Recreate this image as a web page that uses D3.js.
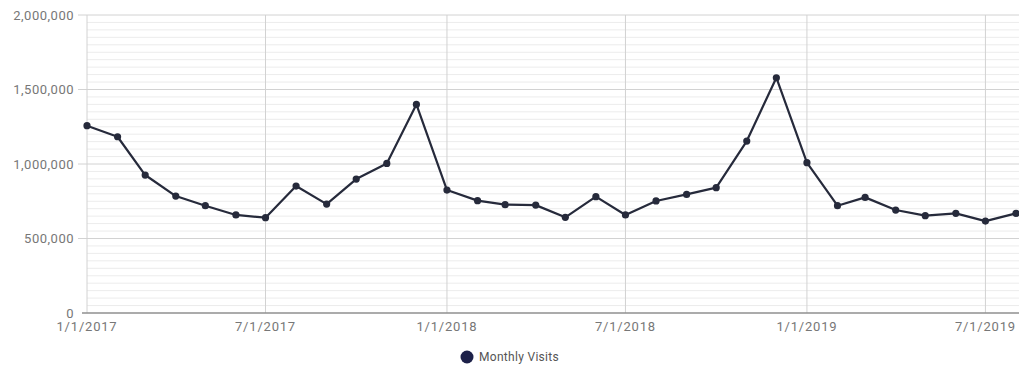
<!DOCTYPE html>
<html>
<head>
<meta charset="utf-8">
<script src="https://cdn.jsdelivr.net/npm/d3@7/dist/d3.min.js"></script>
<style>
  html, body { margin: 0; padding: 0; background: #fff; }
  svg { display: block; font-family: Roboto, "Noto Sans", sans-serif; }
</style>
</head>
<body>
<svg id="chart" width="1019" height="367"></svg>
<script>
const months = [
  "2017-01-01","2017-02-01","2017-03-01","2017-04-01","2017-05-01","2017-06-01",
  "2017-07-01","2017-08-01","2017-09-01","2017-10-01","2017-11-01","2017-12-01",
  "2018-01-01","2018-02-01","2018-03-01","2018-04-01","2018-05-01","2018-06-01",
  "2018-07-01","2018-08-01","2018-09-01","2018-10-01","2018-11-01","2018-12-01",
  "2019-01-01","2019-02-01","2019-03-01","2019-04-01","2019-05-01","2019-06-01",
  "2019-07-01","2019-08-01"
];
const visits = [
  1257000, 1183000, 926000, 785000, 720000, 658000,
  640000, 852000, 731000, 899000, 1004000, 1400000,
  825000, 754000, 727000, 724000, 642000, 781000,
  658000, 752000, 796000, 841000, 1154000, 1579000,
  1009000, 720000, 776000, 691000, 653000, 669000,
  617000, 669000
];
const yTicks = [0, 500000, 1000000, 1500000, 2000000];
const xTickLabels = ["1/1/2017","7/1/2017","1/1/2018","7/1/2018","1/1/2019","7/1/2019"];
const seriesName = "Monthly Visits";

const parse = d3.timeParse("%Y-%m-%d");
const parseTick = d3.timeParse("%m/%d/%Y");
const data = months.map((m, i) => ({ date: parse(m), value: visits[i] }));
const xTicks = xTickLabels.map(t => parseTick(t));

const svg = d3.select("#chart");
const W = 1019;
const plotLeft = 87, plotTop = 15, plotBottom = 313;

const x = d3.scaleTime()
  .domain([parse(months[0]), parse(months[months.length - 1])])
  .range([plotLeft, 1016]);
const y = d3.scaleLinear().domain([0, 2000000]).range([plotBottom, plotTop]);

// minor horizontal grid
const minor = d3.range(50000, 2000000, 50000).filter(v => v % 500000 !== 0);
svg.append("g").selectAll("line").data(minor).join("line")
  .attr("x1", plotLeft).attr("x2", W)
  .attr("y1", d => y(d)).attr("y2", d => y(d))
  .attr("stroke", "#ececec").attr("stroke-width", 1);

// major horizontal grid
svg.append("g").selectAll("line").data(yTicks.filter(v => v > 0)).join("line")
  .attr("x1", plotLeft - 9).attr("x2", W)
  .attr("y1", d => y(d)).attr("y2", d => y(d))
  .attr("stroke", "#d2d2d2").attr("stroke-width", 1);

// vertical grid
svg.append("g").selectAll("line").data(xTicks).join("line")
  .attr("x1", d => x(d)).attr("x2", d => x(d))
  .attr("y1", plotTop).attr("y2", plotBottom)
  .attr("stroke", "#d2d2d2").attr("stroke-width", 1);

// baseline
svg.append("line")
  .attr("x1", plotLeft - 5).attr("x2", W)
  .attr("y1", y(0)).attr("y2", y(0))
  .attr("stroke", "#8f8f8f").attr("stroke-width", 1.5);

// y labels
svg.append("g").selectAll("text").data(yTicks).join("text")
  .attr("x", 74).attr("y", d => y(d))
  .attr("dy", "0.35em")
  .attr("text-anchor", "end")
  .attr("font-size", 13).attr("letter-spacing", 0.5)
  .attr("fill", "#777")
  .text(d => d3.format(",")(d));

// x labels
svg.append("g").selectAll("text").data(xTicks).join("text")
  .attr("x", d => x(d)).attr("y", 331)
  .attr("text-anchor", "middle")
  .attr("font-size", 13).attr("letter-spacing", 0.8)
  .attr("fill", "#777")
  .text((d, i) => xTickLabels[i]);

// line
const line = d3.line().x(d => x(d.date)).y(d => y(d.value));
svg.append("path").datum(data)
  .attr("d", line)
  .attr("fill", "none")
  .attr("stroke", "#262a3b").attr("stroke-width", 2.2)
  .attr("stroke-linejoin", "round");

svg.append("g").selectAll("circle").data(data).join("circle")
  .attr("cx", d => x(d.date)).attr("cy", d => y(d.value))
  .attr("r", 3.6).attr("fill", "#262a3b");

// legend
const lg = svg.append("g").attr("transform", "translate(467,357)");
lg.append("circle").attr("r", 6.5).attr("fill", "#1d2149");
lg.append("text").attr("x", 12).attr("y", 0).attr("dy", "0.35em")
  .attr("font-size", 12).attr("letter-spacing", 0.3)
  .attr("fill", "#555").text(seriesName);
</script>
</body>
</html>
